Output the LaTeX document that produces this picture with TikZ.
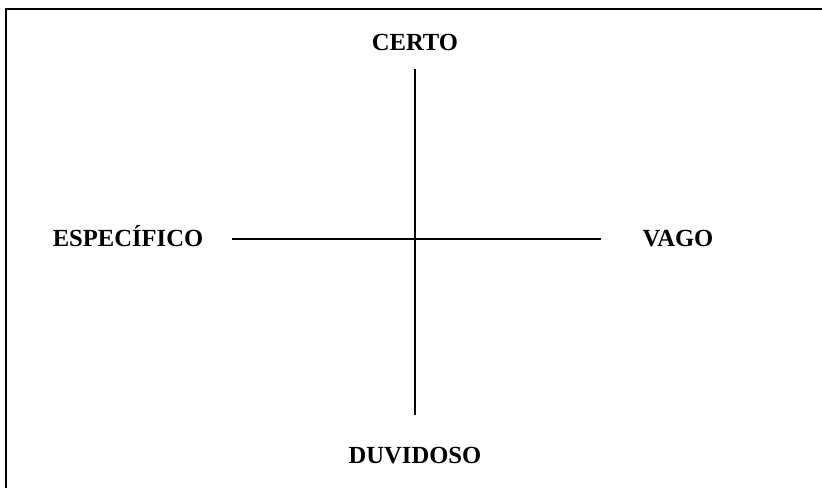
\documentclass[tikz,border=0pt]{standalone}
\usepackage{fontspec}
\setmainfont{Liberation Serif}
\begin{document}
\begin{tikzpicture}[x=0.03cm,y=-0.03cm]
\tikzset{label/.style={font=\fontsize{21}{24}\selectfont\bfseries, inner sep=0pt, anchor=base}}
\tikzset{axis/.style={line width=1.2pt}}
\tikzset{frame/.style={line width=1.3pt}}
\useasboundingbox (0,0) rectangle (822,488);

\coordinate (corner) at (6,9);
\coordinate (topend) at (822,9);
\coordinate (leftend) at (6,488);
\draw [frame] (topend) -- (corner) -- (leftend);

\coordinate (n) at (415,69);
\coordinate (s) at (415,415);
\coordinate (w) at (232,239);
\coordinate (e) at (601,239);

\node (certo) [label] at (415,51) {CERTO};
\node (duvidoso) [label] at (415,463) {DUVIDOSO};
\node (especifico) [label] at (128,247) {ESPECÍFICO};
\node (vago) [label] at (678,247) {VAGO};

\draw [axis] (n) -- (s);
\draw [axis] (w) -- (e);
\end{tikzpicture}
\end{document}
